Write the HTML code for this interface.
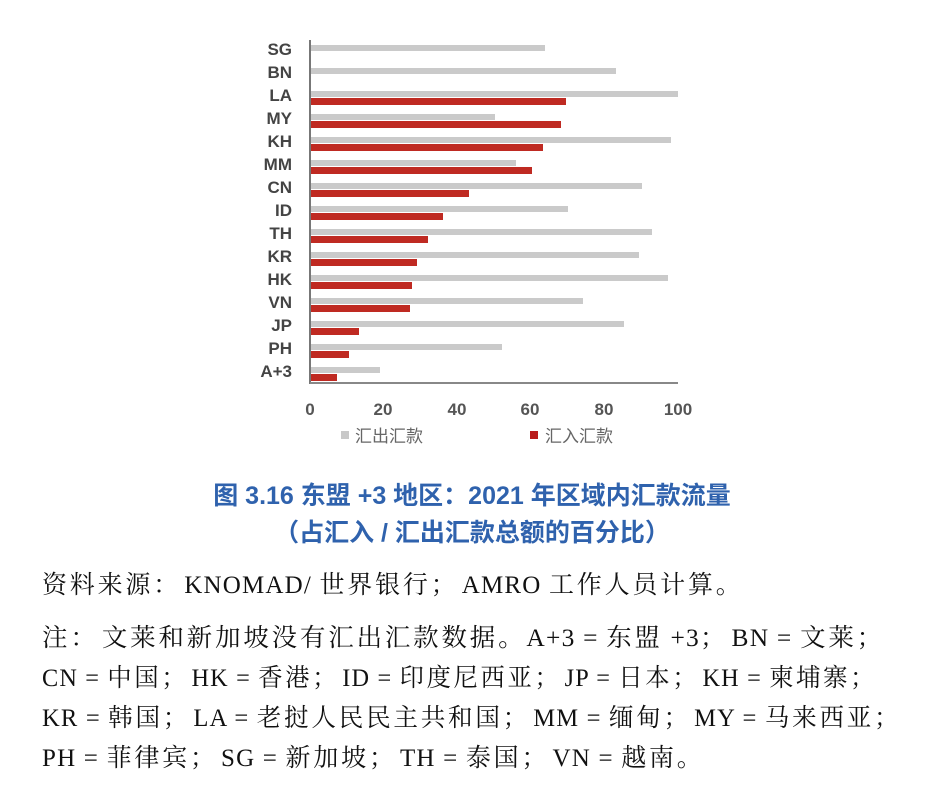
<!DOCTYPE html>
<html><head><meta charset="utf-8"><style>
body{margin:0;width:944px;height:806px;background:#fff;position:relative;overflow:hidden}
.t{position:absolute;white-space:nowrap}
.ti{font-family:"Liberation Sans","Noto Sans CJK SC",sans-serif;font-weight:bold;color:#2f62ad;font-size:25px;left:0;width:944px;text-align:center;text-spacing-trim:space-all}
.b{font-family:"Liberation Serif","Noto Serif CJK SC",serif;font-size:25px;color:#111;left:42px;letter-spacing:1.2px;text-spacing-trim:space-all;transform-origin:0 50%}
.b i{font-style:normal;letter-spacing:2.8px}
.b u{text-decoration:none;display:inline-block;width:31px}
</style></head><body>
<svg width="944" height="460" style="position:absolute;left:0;top:0" font-family="Liberation Sans, Noto Sans CJK SC, sans-serif">
<line x1="310" y1="40" x2="310" y2="384" stroke="#777" stroke-width="2"/>
<line x1="310" y1="383" x2="678" y2="383" stroke="#888" stroke-width="2"/>
<g font-size="17" font-weight="bold" fill="#555" text-anchor="middle">
<text x="310" y="415">0</text><text x="383" y="415">20</text><text x="457" y="415">40</text><text x="530" y="415">60</text><text x="604" y="415">80</text><text x="678" y="415">100</text>
</g>
<rect x="341" y="431" width="8" height="8" fill="#c8c8c8"/>
<text x="355" y="442" font-size="17" fill="#666">汇出汇款</text>
<rect x="530" y="431" width="8" height="8" fill="#b91c1c"/>
<text x="545" y="442" font-size="17" fill="#666">汇入汇款</text>
<g font-size="17" font-weight="bold" fill="#444" text-anchor="end">
<text x="292" y="55">SG</text><text x="292" y="78">BN</text><text x="292" y="101">LA</text><text x="292" y="124">MY</text><text x="292" y="147">KH</text><text x="292" y="170">MM</text><text x="292" y="193">CN</text><text x="292" y="216">ID</text><text x="292" y="239">TH</text><text x="292" y="262">KR</text><text x="292" y="285">HK</text><text x="292" y="308">VN</text><text x="292" y="331">JP</text><text x="292" y="354">PH</text><text x="292" y="377">A+3</text>
</g>
<g fill="#cacaca">
<rect x="311" y="45" width="234" height="6"/>
<rect x="311" y="68" width="305" height="6"/>
<rect x="311" y="91" width="367" height="6"/>
<rect x="311" y="114" width="184" height="6"/>
<rect x="311" y="137" width="360" height="6"/>
<rect x="311" y="160" width="205" height="6"/>
<rect x="311" y="183" width="331" height="6"/>
<rect x="311" y="206" width="257" height="6"/>
<rect x="311" y="229" width="341" height="6"/>
<rect x="311" y="252" width="328" height="6"/>
<rect x="311" y="275" width="357" height="6"/>
<rect x="311" y="298" width="272" height="6"/>
<rect x="311" y="321" width="313" height="6"/>
<rect x="311" y="344" width="191" height="6"/>
<rect x="311" y="367" width="69" height="6"/>
</g>
<g fill="#bf2a22">
<rect x="311" y="98" width="255" height="7"/>
<rect x="311" y="121" width="250" height="7"/>
<rect x="311" y="144" width="232" height="7"/>
<rect x="311" y="167" width="221" height="7"/>
<rect x="311" y="190" width="158" height="7"/>
<rect x="311" y="213" width="132" height="7"/>
<rect x="311" y="236" width="117" height="7"/>
<rect x="311" y="259" width="106" height="7"/>
<rect x="311" y="282" width="101" height="7"/>
<rect x="311" y="305" width="99" height="7"/>
<rect x="311" y="328" width="48" height="7"/>
<rect x="311" y="351" width="38" height="7"/>
<rect x="311" y="374" width="26" height="7"/>
</g>
</svg>
<div class="t ti" style="top:476px">图 3.16 东盟 +3 地区：2021 年区域内汇款流量</div>
<div class="t ti" style="top:513px">（占汇入 / 汇出汇款总额的百分比）</div>
<div class="t b" style="top:565px"><i>资料来源</i><u>：</u>KNOMAD/ <i>世界银行</i><u>；</u>AMRO <i>工作人员计算。</i></div>
<div class="t b" style="top:618px;transform:scaleX(1.018)"><i>注</i><u>：</u><i>文莱和新加坡没有汇出汇款数据。</i>A+3 = <i>东盟</i> +3<u>；</u>BN = <i>文莱</i><u>；</u></div>
<div class="t b" style="top:658px;transform:scaleX(0.971)">CN = <i>中国</i><u>；</u>HK = <i>香港</i><u>；</u>ID = <i>印度尼西亚</i><u>；</u>JP = <i>日本</i><u>；</u>KH = <i>柬埔寨</i><u>；</u></div>
<div class="t b" style="top:698px;transform:scaleX(0.983)">KR = <i>韩国</i><u>；</u>LA = <i>老挝人民民主共和国</i><u>；</u>MM = <i>缅甸</i><u>；</u>MY = <i>马来西亚</i><u>；</u></div>
<div class="t b" style="top:738px">PH = <i>菲律宾</i><u>；</u>SG = <i>新加坡</i><u>；</u>TH = <i>泰国</i><u>；</u>VN = <i>越南。</i></div>
</body></html>
